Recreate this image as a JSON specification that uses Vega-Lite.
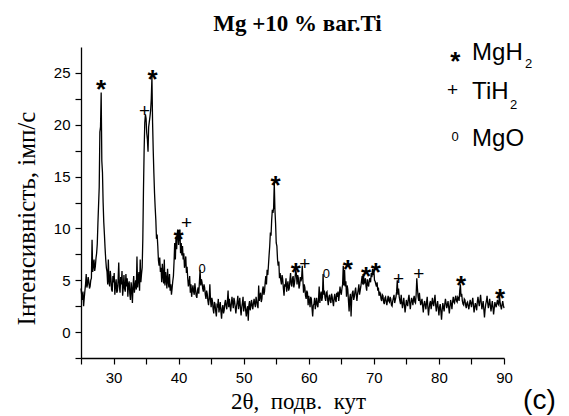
{
"$schema": "https://vega.github.io/schema/vega-lite/v6.json",
"width": 423, "height": 311,
"autosize": {"type": "none"},
"padding": {"left": 81, "top": 47, "right": 65, "bottom": 58},
"background": "white",
"title": {"text": "Mg +10 % ваг.Ti", "font": "Liberation Serif", "fontSize": 23, "fontWeight": "bold", "color": "black", "frame": "group", "anchor": "middle", "baseline": "alphabetic", "offset": -13, "dx": 5},
"config": {"view": {"stroke": null}},
"datasets": {
"xrd": [
{"t":25.0,"i":4.2},{"t":25.1,"i":3.6},{"t":25.2,"i":3.1},{"t":25.3,"i":3.9},{"t":25.4,"i":2.5},{"t":25.5,"i":3.3},{"t":25.6,"i":4.0},{"t":25.7,"i":4.6},{"t":25.8,"i":5.6},{"t":25.9,"i":4.3},{"t":26.0,"i":4.6},{"t":26.1,"i":5.3},{"t":26.2,"i":4.9},{"t":26.3,"i":4.2},{"t":26.4,"i":4.4},{"t":26.5,"i":5.0},{"t":26.6,"i":5.2},{"t":26.7,"i":8.9},{"t":26.8,"i":5.8},{"t":26.9,"i":6.4},{"t":27.0,"i":7.0},{"t":27.1,"i":5.9},{"t":27.2,"i":6.3},{"t":27.3,"i":7.1},{"t":27.4,"i":7.6},{"t":27.5,"i":8.5},{"t":27.6,"i":10.5},{"t":27.8,"i":14.0},{"t":27.9,"i":19.3},{"t":28.0,"i":19.8},{"t":28.1,"i":23.1},{"t":28.2,"i":16.5},{"t":28.3,"i":15.4},{"t":28.4,"i":12.5},{"t":28.5,"i":10.6},{"t":28.6,"i":9.4},{"t":28.7,"i":8.1},{"t":28.8,"i":7.0},{"t":28.9,"i":6.2},
{"t":29.0,"i":5.8},{"t":29.1,"i":4.6},{"t":29.2,"i":7.0},{"t":29.3,"i":4.9},{"t":29.4,"i":4.4},{"t":29.5,"i":5.9},{"t":29.6,"i":5.2},{"t":29.7,"i":4.1},{"t":29.8,"i":3.9},{"t":29.9,"i":5.4},{"t":30.0,"i":4.8},{"t":30.1,"i":5.7},{"t":30.2,"i":3.6},{"t":30.3,"i":4.5},{"t":30.4,"i":5.1},{"t":30.5,"i":3.8},{"t":30.6,"i":4.0},{"t":30.7,"i":5.0},{"t":30.8,"i":6.7},{"t":30.9,"i":4.4},{"t":31.0,"i":3.8},{"t":31.1,"i":5.3},{"t":31.2,"i":4.6},{"t":31.3,"i":5.9},{"t":31.4,"i":3.5},{"t":31.5,"i":4.3},{"t":31.6,"i":5.5},{"t":31.7,"i":4.2},{"t":31.8,"i":3.9},{"t":31.9,"i":5.6},{"t":32.0,"i":4.4},{"t":32.1,"i":5.2},{"t":32.2,"i":3.4},{"t":32.3,"i":4.6},{"t":32.4,"i":4.9},{"t":32.5,"i":3.7},{"t":32.6,"i":3.1},{"t":32.7,"i":4.8},{"t":32.8,"i":4.2},{"t":32.9,"i":2.8},{"t":33.0,"i":4.5},{"t":33.1,"i":5.4},{"t":33.2,"i":3.8},{"t":33.3,"i":4.4},{"t":33.4,"i":5.0},{"t":33.5,"i":4.1},{"t":33.6,"i":7.3},{"t":33.7,"i":4.3},{"t":33.8,"i":5.1},{"t":33.9,"i":5.8},{"t":34.0,"i":4.0},{"t":34.1,"i":7.0},{"t":34.2,"i":4.8},{"t":34.3,"i":5.6},{"t":34.4,"i":6.2},{"t":34.5,"i":9.0},{"t":34.6,"i":13.7},{"t":34.7,"i":17.5},{"t":34.8,"i":20.2},{"t":34.9,"i":21.0},{"t":35.0,"i":20.6},{"t":35.1,"i":19.2},{"t":35.2,"i":18.6},{"t":35.3,"i":17.4},{"t":35.4,"i":19.8},{"t":35.5,"i":20.3},{"t":35.6,"i":20.8},{"t":35.7,"i":21.4},{"t":35.8,"i":22.5},{"t":35.9,"i":24.6},{"t":36.0,"i":20.2},{"t":36.1,"i":17.5},{"t":36.2,"i":15.3},{"t":36.3,"i":13.4},{"t":36.4,"i":12.0},{"t":36.5,"i":10.8},{"t":36.6,"i":9.0},{"t":36.7,"i":9.4},
{"t":36.8,"i":8.3},{"t":36.9,"i":6.9},{"t":37.0,"i":6.4},{"t":37.1,"i":7.2},{"t":37.2,"i":5.8},{"t":37.3,"i":6.2},{"t":37.4,"i":4.8},{"t":37.5,"i":6.6},{"t":37.6,"i":5.4},{"t":37.7,"i":4.7},{"t":37.8,"i":7.0},{"t":37.9,"i":4.5},{"t":38.0,"i":5.8},{"t":38.1,"i":5.1},{"t":38.2,"i":4.2},{"t":38.3,"i":6.1},{"t":38.4,"i":4.9},{"t":38.5,"i":4.3},{"t":38.6,"i":5.6},{"t":38.7,"i":4.0},{"t":38.8,"i":4.6},{"t":38.9,"i":3.6},{"t":39.0,"i":4.2},{"t":39.1,"i":4.9},{"t":39.2,"i":5.4},{"t":39.3,"i":6.8},{"t":39.4,"i":8.6},{"t":39.5,"i":7.0},{"t":39.6,"i":9.2},{"t":39.7,"i":8.0},{"t":39.8,"i":9.6},{"t":39.9,"i":9.9},{"t":40.0,"i":8.4},{"t":40.1,"i":9.5},{"t":40.2,"i":9.9},{"t":40.3,"i":7.6},{"t":40.4,"i":8.6},{"t":40.5,"i":7.4},{"t":40.6,"i":8.3},{"t":40.7,"i":7.0},{"t":40.8,"i":7.6},{"t":40.9,"i":6.2},{"t":41.0,"i":6.6},{"t":41.1,"i":7.3},
{"t":41.2,"i":5.7},{"t":41.3,"i":6.3},{"t":41.4,"i":5.2},{"t":41.5,"i":4.4},{"t":41.6,"i":4.8},{"t":41.7,"i":5.4},{"t":41.8,"i":3.8},{"t":41.9,"i":4.6},{"t":42.0,"i":3.4},{"t":42.1,"i":4.0},{"t":42.2,"i":4.5},{"t":42.3,"i":3.9},{"t":42.4,"i":3.6},{"t":42.5,"i":4.7},{"t":42.6,"i":4.1},{"t":42.7,"i":3.5},{"t":42.8,"i":3.3},{"t":42.9,"i":4.0},{"t":43.0,"i":4.3},{"t":43.1,"i":3.7},{"t":43.2,"i":4.9},{"t":43.3,"i":6.0},{"t":43.4,"i":4.5},{"t":43.5,"i":5.1},{"t":43.6,"i":4.8},{"t":43.7,"i":4.2},{"t":43.8,"i":3.9},{"t":43.9,"i":4.6},{"t":44.0,"i":4.3},{"t":44.1,"i":3.6},{"t":44.2,"i":3.2},{"t":44.3,"i":4.0},{"t":44.4,"i":3.7},{"t":44.5,"i":3.0},{"t":44.6,"i":2.6},{"t":44.7,"i":3.3},{"t":44.8,"i":4.6},{"t":44.9,"i":3.1},{"t":45.0,"i":2.4},{"t":45.1,"i":3.3},{"t":45.2,"i":3.0},{"t":45.3,"i":2.2},{"t":45.4,"i":1.8},{"t":45.5,"i":2.9},{"t":45.6,"i":2.7},{"t":45.7,"i":2.0},{"t":45.8,"i":1.5},{"t":45.9,"i":2.6},{"t":46.0,"i":2.5},{"t":46.1,"i":3.2},{"t":46.2,"i":1.9},{"t":46.3,"i":2.4},{"t":46.4,"i":2.9},{"t":46.5,"i":2.0},{"t":46.6,"i":1.3},{"t":46.7,"i":2.3},{"t":46.8,"i":2.6},{"t":46.9,"i":1.8},{"t":47.0,"i":2.1},{"t":47.1,"i":2.8},{"t":47.2,"i":3.1},{"t":47.3,"i":2.5},{"t":47.4,"i":2.2},{"t":47.5,"i":3.0},{"t":47.6,"i":4.0},{"t":47.7,"i":2.4},{"t":47.8,"i":3.2},{"t":47.9,"i":2.6},{"t":48.0,"i":2.0},{"t":48.1,"i":2.7},{"t":48.2,"i":3.4},{"t":48.3,"i":2.8},{"t":48.4,"i":2.3},{"t":48.5,"i":3.3},{"t":48.6,"i":3.0},{"t":48.7,"i":2.4},{"t":48.8,"i":1.8},{"t":48.9,"i":2.5},{"t":49.0,"i":2.9},{"t":49.1,"i":3.5},{"t":49.2,"i":2.2},{"t":49.3,"i":2.7},{"t":49.4,"i":3.3},{"t":49.5,"i":2.3},{"t":49.6,"i":1.6},{"t":49.7,"i":2.4},{"t":49.8,"i":2.8},{"t":49.9,"i":3.4},{"t":50.0,"i":2.0},{"t":50.1,"i":2.6},{"t":50.2,"i":3.0},{"t":50.3,"i":2.1},{"t":50.4,"i":1.5},{"t":50.5,"i":2.2},{"t":50.6,"i":2.5},{"t":50.7,"i":1.1},{"t":50.8,"i":2.6},{"t":50.9,"i":3.0},{"t":51.0,"i":2.1},{"t":51.1,"i":2.5},{"t":51.2,"i":3.1},{"t":51.3,"i":2.6},{"t":51.4,"i":2.2},{"t":51.5,"i":2.8},{"t":51.6,"i":3.2},{"t":51.7,"i":2.7},{"t":51.8,"i":2.4},{"t":51.9,"i":3.4},{"t":52.0,"i":3.0},{"t":52.1,"i":2.6},{"t":52.2,"i":2.3},{"t":52.3,"i":4.5},{"t":52.4,"i":3.0},{"t":52.5,"i":3.5},{"t":52.6,"i":3.8},{"t":52.7,"i":2.9},{"t":52.8,"i":3.2},{"t":52.9,"i":4.1},{"t":53.0,"i":4.4},{"t":53.1,"i":3.6},{"t":53.2,"i":3.9},{"t":53.3,"i":4.8},{"t":53.4,"i":5.4},{"t":53.5,"i":4.6},{"t":53.6,"i":6.0},{"t":53.7,"i":5.5},{"t":53.8,"i":6.4},{"t":53.9,"i":7.4},{"t":54.0,"i":8.3},{"t":54.1,"i":9.6},{"t":54.2,"i":9.3},{"t":54.3,"i":10.8},{"t":54.4,"i":11.8},{"t":54.5,"i":11.5},{"t":54.6,"i":12.0},{"t":54.7,"i":14.4},{"t":54.8,"i":11.8},{"t":54.9,"i":10.5},{"t":55.0,"i":8.6},{"t":55.1,"i":8.3},{"t":55.2,"i":7.0},{"t":55.3,"i":6.4},{"t":55.4,"i":6.8},{"t":55.5,"i":5.2},
{"t":55.6,"i":5.7},{"t":55.7,"i":5.0},{"t":55.8,"i":4.6},{"t":55.9,"i":5.5},{"t":56.0,"i":5.1},{"t":56.1,"i":4.2},{"t":56.2,"i":3.5},{"t":56.3,"i":4.6},{"t":56.4,"i":4.4},{"t":56.5,"i":5.2},{"t":56.6,"i":3.9},{"t":56.7,"i":4.5},{"t":56.8,"i":4.9},{"t":56.9,"i":4.0},{"t":57.0,"i":4.2},{"t":57.1,"i":5.0},{"t":57.2,"i":5.7},{"t":57.3,"i":4.6},{"t":57.4,"i":4.4},{"t":57.5,"i":5.2},{"t":57.6,"i":5.4},{"t":57.7,"i":4.3},{"t":57.8,"i":4.7},{"t":57.9,"i":5.3},{"t":58.0,"i":6.0},{"t":58.1,"i":5.6},{"t":58.2,"i":4.6},{"t":58.3,"i":5.5},{"t":58.4,"i":5.2},{"t":58.5,"i":4.2},{"t":58.6,"i":4.5},{"t":58.7,"i":5.3},{"t":58.8,"i":4.9},{"t":58.9,"i":5.2},{"t":59.0,"i":6.4},{"t":59.1,"i":5.0},{"t":59.2,"i":3.8},{"t":59.3,"i":4.6},{"t":59.4,"i":4.3},{"t":59.5,"i":3.5},{"t":59.6,"i":3.2},{"t":59.7,"i":4.0},{"t":59.8,"i":3.8},{"t":59.9,"i":2.6},{"t":60.0,"i":3.5},{"t":60.1,"i":3.0},{"t":60.2,"i":2.4},{"t":60.3,"i":3.4},{"t":60.4,"i":3.2},{"t":60.5,"i":2.3},{"t":60.6,"i":1.5},{"t":60.7,"i":2.6},{"t":60.8,"i":2.7},{"t":60.9,"i":3.3},{"t":61.0,"i":2.2},{"t":61.1,"i":2.8},{"t":61.2,"i":3.3},{"t":61.3,"i":2.6},{"t":61.4,"i":2.4},{"t":61.5,"i":3.2},{"t":61.6,"i":4.4},{"t":61.7,"i":2.8},{"t":61.8,"i":3.5},{"t":61.9,"i":3.9},{"t":62.0,"i":3.0},{"t":62.1,"i":3.4},{"t":62.2,"i":5.6},{"t":62.3,"i":3.6},{"t":62.4,"i":4.0},{"t":62.5,"i":3.3},{"t":62.6,"i":3.0},{"t":62.7,"i":3.8},{"t":62.8,"i":3.9},{"t":62.9,"i":3.1},{"t":63.0,"i":2.6},{"t":63.1,"i":3.4},{"t":63.2,"i":3.6},{"t":63.3,"i":3.0},{"t":63.4,"i":2.8},{"t":63.5,"i":3.7},{"t":63.6,"i":3.4},{"t":63.7,"i":2.9},{"t":63.8,"i":2.5},{"t":63.9,"i":3.3},{"t":64.0,"i":3.7},{"t":64.1,"i":3.1},{"t":64.2,"i":2.9},{"t":64.3,"i":3.8},{"t":64.4,"i":3.4},{"t":64.5,"i":3.9},{"t":64.6,"i":3.0},{"t":64.7,"i":3.6},{"t":64.8,"i":4.4},{"t":64.9,"i":3.9},{"t":65.0,"i":3.6},{"t":65.1,"i":4.2},{"t":65.2,"i":4.6},{"t":65.3,"i":6.4},{"t":65.4,"i":4.5},{"t":65.5,"i":6.0},{"t":65.6,"i":4.4},{"t":65.7,"i":4.9},{"t":65.8,"i":3.4},{"t":65.9,"i":4.5},{"t":66.0,"i":4.1},{"t":66.1,"i":3.0},{"t":66.2,"i":2.0},{"t":66.3,"i":3.3},{"t":66.4,"i":3.7},{"t":66.5,"i":1.5},{"t":66.6,"i":3.2},{"t":66.7,"i":3.8},{"t":66.8,"i":4.0},{"t":66.9,"i":3.1},{"t":67.0,"i":3.4},{"t":67.1,"i":3.9},{"t":67.2,"i":4.3},{"t":67.3,"i":3.6},{"t":67.4,"i":3.0},{"t":67.5,"i":3.7},{"t":67.6,"i":4.1},{"t":67.7,"i":4.6},{"t":67.8,"i":3.6},{"t":67.9,"i":4.0},{"t":68.0,"i":4.4},{"t":68.1,"i":4.9},{"t":68.2,"i":5.4},{"t":68.3,"i":4.6},{"t":68.4,"i":5.6},{"t":68.5,"i":4.7},{"t":68.6,"i":4.8},{"t":68.7,"i":5.2},{"t":68.8,"i":4.4},{"t":68.9,"i":4.0},{"t":69.0,"i":5.1},{"t":69.1,"i":4.6},{"t":69.2,"i":4.4},{"t":69.3,"i":5.0},{"t":69.4,"i":5.2},{"t":69.5,"i":4.8},{"t":69.6,"i":5.7},{"t":69.7,"i":5.3},{"t":69.8,"i":6.1},{"t":69.9,"i":5.5},{"t":70.0,"i":6.0},{"t":70.1,"i":5.0},{"t":70.2,"i":4.9},{"t":70.3,"i":4.6},{"t":70.4,"i":4.4},{"t":70.5,"i":4.8},{"t":70.6,"i":4.0},{"t":70.7,"i":4.3},{"t":70.8,"i":3.5},{"t":70.9,"i":3.9},{"t":71.0,"i":3.7},{"t":71.1,"i":3.2},{"t":71.2,"i":3.0},{"t":71.3,"i":3.6},{"t":71.4,"i":3.5},{"t":71.5,"i":2.9},{"t":71.6,"i":2.7},{"t":71.7,"i":3.3},{"t":71.8,"i":3.4},{"t":71.9,"i":2.9},{"t":72.0,"i":2.6},{"t":72.1,"i":3.1},{"t":72.2,"i":3.5},{"t":72.3,"i":3.0},{"t":72.4,"i":2.9},{"t":72.5,"i":3.4},{"t":72.6,"i":3.2},{"t":72.7,"i":2.6},{"t":72.8,"i":2.5},{"t":72.9,"i":3.0},{"t":73.0,"i":3.3},{"t":73.1,"i":3.6},{"t":73.2,"i":2.8},{"t":73.3,"i":3.1},{"t":73.4,"i":3.4},{"t":73.5,"i":3.9},{"t":73.6,"i":5.0},{"t":73.7,"i":3.6},{"t":73.8,"i":4.2},{"t":73.9,"i":3.4},{"t":74.0,"i":3.0},{"t":74.1,"i":2.7},{"t":74.2,"i":3.6},{"t":74.3,"i":2.9},{"t":74.4,"i":2.3},{"t":74.5,"i":2.8},{"t":74.6,"i":3.3},{"t":74.7,"i":2.6},{"t":74.8,"i":1.9},{"t":74.9,"i":2.5},{"t":75.0,"i":3.1},{"t":75.1,"i":2.7},{"t":75.2,"i":2.5},{"t":75.3,"i":3.2},{"t":75.4,"i":3.6},{"t":75.5,"i":2.9},{"t":75.6,"i":2.2},{"t":75.7,"i":2.8},{"t":75.8,"i":3.3},{"t":75.9,"i":3.0},{"t":76.0,"i":2.6},{"t":76.1,"i":3.2},{"t":76.2,"i":3.5},{"t":76.3,"i":2.9},{"t":76.4,"i":2.8},{"t":76.5,"i":3.6},{"t":76.6,"i":5.2},{"t":76.7,"i":4.2},{"t":76.8,"i":3.4},{"t":76.9,"i":3.0},{"t":77.0,"i":3.8},{"t":77.1,"i":3.1},{"t":77.2,"i":2.6},{"t":77.3,"i":2.9},{"t":77.4,"i":3.2},{"t":77.5,"i":2.5},{"t":77.6,"i":1.9},{"t":77.7,"i":2.7},{"t":77.8,"i":3.0},{"t":77.9,"i":2.6},{"t":78.0,"i":2.2},{"t":78.1,"i":2.9},{"t":78.2,"i":3.4},{"t":78.3,"i":2.4},{"t":78.4,"i":1.6},{"t":78.5,"i":2.3},{"t":78.6,"i":2.8},{"t":78.7,"i":3.0},{"t":78.8,"i":2.2},{"t":78.9,"i":2.7},{"t":79.0,"i":3.3},{"t":79.1,"i":2.8},{"t":79.2,"i":2.5},{"t":79.3,"i":3.1},{"t":79.4,"i":3.6},{"t":79.5,"i":2.6},{"t":79.6,"i":2.0},{"t":79.7,"i":2.6},{"t":79.8,"i":3.0},{"t":79.9,"i":2.3},{"t":80.0,"i":1.6},{"t":80.1,"i":2.4},{"t":80.2,"i":2.7},{"t":80.3,"i":2.0},{"t":80.4,"i":1.2},{"t":80.5,"i":2.1},{"t":80.6,"i":2.8},{"t":80.7,"i":2.4},{"t":80.8,"i":2.0},{"t":80.9,"i":2.7},{"t":81.0,"i":3.2},{"t":81.1,"i":2.8},{"t":81.2,"i":2.3},{"t":81.3,"i":2.6},{"t":81.4,"i":3.0},{"t":81.5,"i":2.4},{"t":81.6,"i":1.8},{"t":81.7,"i":2.5},{"t":81.8,"i":3.1},{"t":81.9,"i":2.7},{"t":82.0,"i":2.2},{"t":82.1,"i":2.9},{"t":82.2,"i":3.4},{"t":82.3,"i":2.9},{"t":82.4,"i":2.8},{"t":82.5,"i":3.3},{"t":82.6,"i":3.5},{"t":82.7,"i":3.0},{"t":82.8,"i":2.9},{"t":82.9,"i":3.4},{"t":83.0,"i":3.3},{"t":83.1,"i":3.0},{"t":83.2,"i":4.0},{"t":83.3,"i":4.6},{"t":83.4,"i":3.4},{"t":83.5,"i":3.7},{"t":83.6,"i":3.0},{"t":83.7,"i":2.7},{"t":83.8,"i":2.6},{"t":83.9,"i":3.2},{"t":84.0,"i":3.1},{"t":84.1,"i":2.6},{"t":84.2,"i":2.3},{"t":84.3,"i":2.8},{"t":84.4,"i":2.9},{"t":84.5,"i":2.5},{"t":84.6,"i":2.2},{"t":84.7,"i":2.7},{"t":84.8,"i":3.1},{"t":84.9,"i":2.8},{"t":85.0,"i":2.4},{"t":85.1,"i":2.9},{"t":85.2,"i":3.3},{"t":85.3,"i":2.6},{"t":85.4,"i":1.9},{"t":85.5,"i":2.4},{"t":85.6,"i":2.8},{"t":85.7,"i":2.5},{"t":85.8,"i":2.1},{"t":85.9,"i":2.9},{"t":86.0,"i":3.4},{"t":86.1,"i":2.9},{"t":86.2,"i":2.5},{"t":86.3,"i":3.0},{"t":86.4,"i":3.6},{"t":86.5,"i":2.9},{"t":86.6,"i":2.2},{"t":86.7,"i":2.6},{"t":86.8,"i":3.0},{"t":86.9,"i":2.2},{"t":87.0,"i":1.4},{"t":87.1,"i":2.2},{"t":87.2,"i":2.7},{"t":87.3,"i":3.0},{"t":87.4,"i":3.5},{"t":87.5,"i":2.8},{"t":87.6,"i":2.3},{"t":87.7,"i":2.7},{"t":87.8,"i":3.2},{"t":87.9,"i":2.6},{"t":88.0,"i":2.0},{"t":88.1,"i":2.5},{"t":88.2,"i":3.0},{"t":88.3,"i":2.4},{"t":88.4,"i":1.7},{"t":88.5,"i":2.3},{"t":88.6,"i":2.9},{"t":88.7,"i":2.6},{"t":88.8,"i":2.4},{"t":88.9,"i":2.8},{"t":89.0,"i":3.1},{"t":89.1,"i":2.7},{"t":89.2,"i":2.6},{"t":89.3,"i":3.6},{"t":89.4,"i":2.9},{"t":89.5,"i":2.5},{"t":89.6,"i":2.2},{"t":89.7,"i":2.6},{"t":89.8,"i":3.0},{"t":89.9,"i":2.6},{"t":90.0,"i":2.3}
],
"marks": [
{"s":"*","t":28.1,"i":24.0},{"s":"+","t":34.75,"i":21.4},{"s":"*","t":36.0,"i":25.0},{"s":"*","t":40.0,"i":9.6},{"s":"+","t":41.2,"i":10.6},{"s":"0","t":43.6,"i":6.2},{"s":"*","t":54.9,"i":14.8},{"s":"*","t":58.0,"i":6.4},{"s":"+","t":59.4,"i":6.7},{"s":"0","t":62.7,"i":5.7},{"s":"*","t":66.0,"i":6.7},{"s":"*","t":68.8,"i":6.0},{"s":"*","t":70.3,"i":6.4},{"s":"+","t":73.8,"i":5.2},{"s":"+","t":76.9,"i":5.7},{"s":"*","t":83.4,"i":5.1},{"s":"*","t":89.4,"i":3.9},
{"s":"*","t":82.5,"i":26.75},{"s":"+","t":82.1,"i":23.45},{"s":"0","t":82.5,"i":18.9}
],
"labels": [
{"txt":"MgH","t":85.1,"i":26.27},{"txt":"TiH","t":85.1,"i":22.49},{"txt":"MgO","t":85.1,"i":17.92}
],
"subs": [
{"txt":"2","t":93.24,"i":25.47},{"txt":"2","t":90.93,"i":21.52}
],
"panel": [
{"txt":"(c)","t":92.93,"i":-7.45}
]
},
"encoding": {
"x": {"field": "t", "type": "quantitative", "scale": {"domain": [25, 90], "nice": false, "zero": false},
 "axis": {"values": [25,30,35,40,45,50,55,60,65,70,75,80,85,90], "labelExpr": "datum.value % 10 == 0 ? datum.label : ''", "title": "2θ,\u00a0 подв.\u00a0 кут", "grid": false, "domainColor": "black", "domainWidth": 1.3, "tickColor": "black", "tickWidth": 1.2, "tickSize": 6, "labelFont": "Liberation Sans", "labelFontSize": 15, "labelColor": "black", "labelPadding": 6, "labelOverlap": false, "labelFlush": false, "titleFont": "Liberation Serif", "titleFontSize": 23, "titleFontWeight": "normal", "titleColor": "black", "titleBaseline": "alphabetic", "titleX": 217, "titleY": 50}},
"y": {"field": "i", "type": "quantitative", "scale": {"domain": [-2.5, 27.5], "nice": false, "zero": false},
 "axis": {"values": [-2.5,0,2.5,5,7.5,10,12.5,15,17.5,20,22.5,25], "labelExpr": "datum.value % 5 == 0 && datum.value >= 0 ? datum.label : ''", "title": "Інтенсивність,  імп/с", "grid": false, "domainColor": "black", "domainWidth": 1.3, "tickColor": "black", "tickWidth": 1.2, "tickSize": 6, "labelFont": "Liberation Sans", "labelFontSize": 15, "labelColor": "black", "labelPadding": 5, "labelOverlap": false, "titleFont": "Liberation Serif", "titleFontSize": 25, "titleFontWeight": "normal", "titleColor": "black", "titleAngle": -90, "titleBaseline": "alphabetic", "titleX": -47, "titleY": 171}}
},
"layer": [
{"data": {"name": "xrd"}, "mark": {"type": "line", "color": "black", "strokeWidth": 1.3, "interpolate": "linear"}},
{"data": {"name": "marks"}, "transform": [{"filter": "datum.s == '*'"}], "mark": {"type": "text", "font": "Liberation Sans", "fontSize": 26, "fontWeight": "bold", "color": "black", "align": "center", "baseline": "middle", "dy": 7}, "encoding": {"text": {"field": "s"}}},
{"data": {"name": "marks"}, "transform": [{"filter": "datum.s == '+'"}], "mark": {"type": "text", "font": "Liberation Sans", "fontSize": 19, "color": "black", "align": "center", "baseline": "middle", "dy": 1}, "encoding": {"text": {"field": "s"}}},
{"data": {"name": "marks"}, "transform": [{"filter": "datum.s == '0'"}], "mark": {"type": "text", "font": "Liberation Sans", "fontSize": 13, "color": "black", "align": "center", "baseline": "middle", "dy": 1}, "encoding": {"text": {"field": "s"}}},
{"data": {"name": "labels"}, "mark": {"type": "text", "font": "Liberation Sans", "fontSize": 24, "color": "black", "align": "left", "baseline": "alphabetic"}, "encoding": {"text": {"field": "txt"}}},
{"data": {"name": "subs"}, "mark": {"type": "text", "font": "Liberation Sans", "fontSize": 13, "color": "black", "align": "left", "baseline": "alphabetic"}, "encoding": {"text": {"field": "txt"}}},
{"data": {"name": "panel"}, "mark": {"type": "text", "font": "Liberation Sans", "fontSize": 28, "color": "black", "align": "left", "baseline": "alphabetic"}, "encoding": {"text": {"field": "txt"}}}
]
}
